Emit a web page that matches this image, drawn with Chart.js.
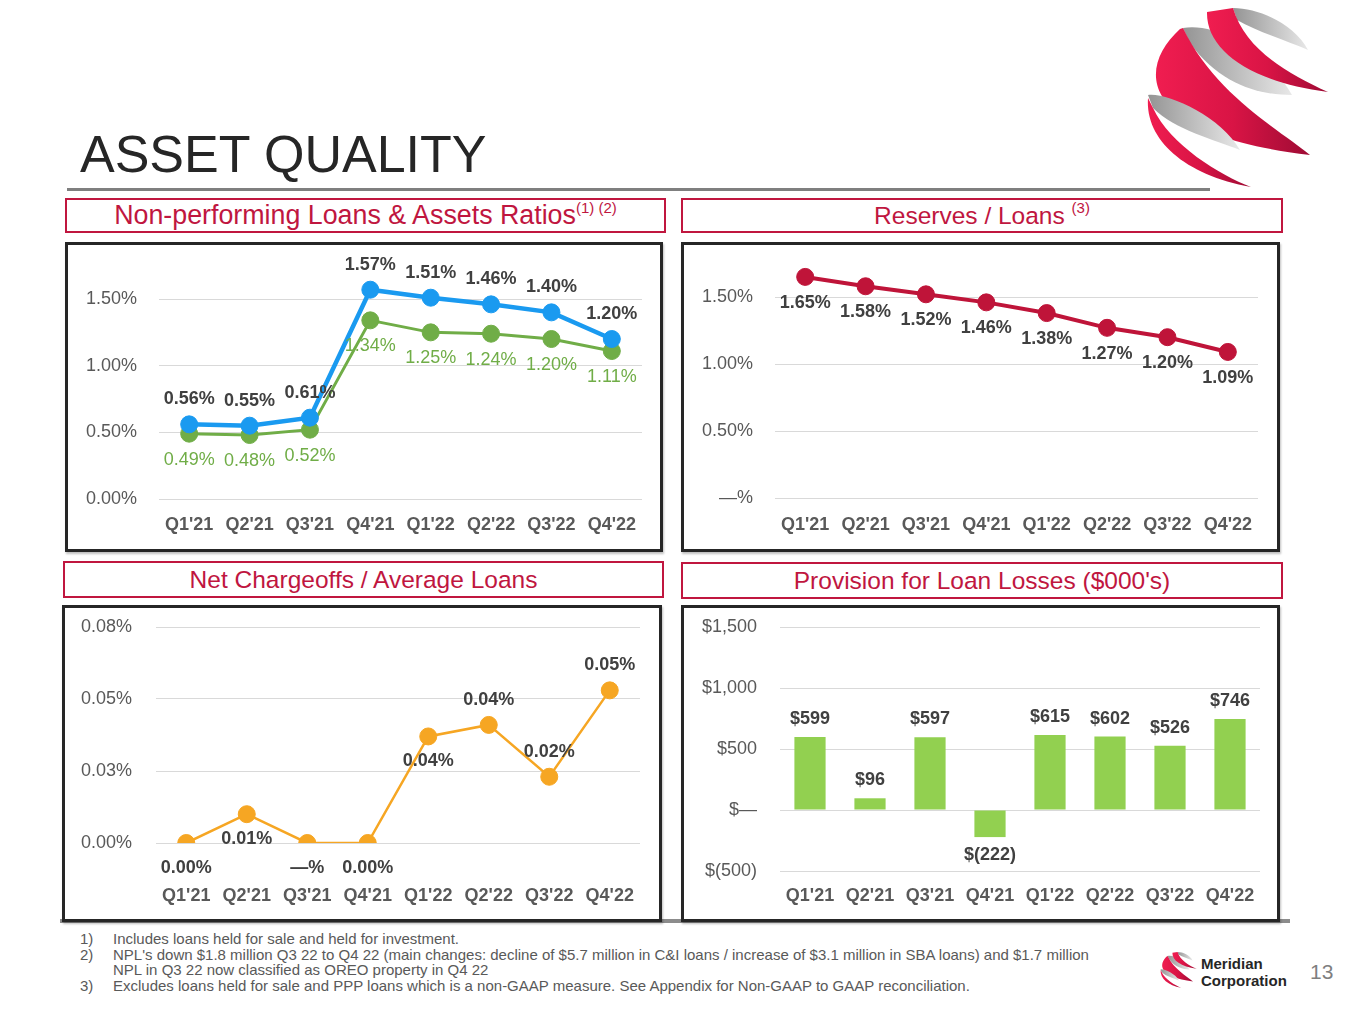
<!DOCTYPE html>
<html>
<head>
<meta charset="utf-8">
<script src="https://cdn.jsdelivr.net/npm/chart.js@4.4.1/dist/chart.umd.min.js"></script>
<style>
    html, body { margin: 0; padding: 0; background: #fff; }
    body { font-family: "Liberation Sans", Arial, sans-serif; }
    #page { position: relative; width: 1365px; height: 1024px; overflow: hidden; background: #fff; }
    .abs { position: absolute; }
    #title { left: 80px; top: 128px; font-size: 52px; line-height: 52px; color: #262626; white-space: nowrap; }
    #titleRule { left: 67px; top: 188px; width: 1143px; height: 3px; background: #7f7f7f; }
    #bottomRule { left: 60px; top: 919px; width: 1230px; height: 4px; background: #8c8c8c; }
    .head { box-sizing: border-box; border: 2px solid #c0163f; color: #c0163f; font-size: 24.5px; text-align: center; white-space: nowrap; background: #fff; }
    .head sup { font-size: 15px; vertical-align: 0; position: relative; top: -11px; }
    .box { box-sizing: border-box; border: 3px solid #262626; background: #fff; box-shadow: 1px 2px 2px rgba(0,0,0,0.25); }
    .chartWrap { position: absolute; }
    #notes { left: 80px; top: 931px; font-size: 15px; line-height: 15.7px; color: #595959; }
    #notes div { position: relative; padding-left: 33px; }
    #notes span { position: absolute; left: 0; }
    #brand { left: 1201px; top: 955px; font-size: 15px; line-height: 17px; font-weight: bold; color: #262626; }
    #pageNo { left: 1310px; top: 960px; font-size: 21px; line-height: 24px; color: #7f7f7f; }
    #logos { left: 0; top: 0; pointer-events: none; }
</style>
</head>
<body>
<div id="page">
    <div id="title" class="abs">ASSET QUALITY</div>
    <div id="titleRule" class="abs"></div>
    <div id="bottomRule" class="abs"></div>

    <div class="abs head" style="left:65px;top:198px;width:601px;height:35px;line-height:31px;font-size:26.8px;">Non-performing Loans &amp; Assets Ratios<sup>(1) (2)</sup></div>
    <div class="abs head" style="left:681px;top:198px;width:602px;height:35px;line-height:31px;">Reserves / Loans <sup>(3)</sup></div>
    <div class="abs head" style="left:63px;top:561px;width:601px;height:37px;line-height:33px;">Net Chargeoffs / Average Loans</div>
    <div class="abs head" style="left:681px;top:562px;width:602px;height:37px;line-height:33px;">Provision for Loan Losses ($000's)</div>

    <div class="abs box" style="left:65px;top:242px;width:598px;height:310px;"></div>
    <div class="abs box" style="left:681px;top:242px;width:599px;height:310px;"></div>
    <div class="abs box" style="left:62px;top:605px;width:600px;height:317px;"></div>
    <div class="abs box" style="left:681px;top:605px;width:599px;height:317px;"></div>

    <div class="chartWrap" style="left:68px;top:245px;width:592px;height:304px;"><canvas id="npaChart"></canvas></div>
    <div class="chartWrap" style="left:684px;top:245px;width:593px;height:304px;"><canvas id="reserveChart"></canvas></div>
    <div class="chartWrap" style="left:65px;top:608px;width:594px;height:311px;"><canvas id="chargeoffChart"></canvas></div>
    <div class="chartWrap" style="left:684px;top:608px;width:593px;height:311px;"><canvas id="provisionChart"></canvas></div>

    <div id="notes" class="abs">
        <div><span>1)</span>Includes loans held for sale and held for investment.</div>
        <div><span>2)</span>NPL's down $1.8 million Q3 22 to Q4 22 (main changes: decline of $5.7 million in C&amp;I loans / increase of $3.1 million in SBA loans) and $1.7 million<br>NPL in Q3 22 now classified as OREO property in Q4 22</div>
        <div><span>3)</span>Excludes loans held for sale and PPP loans which is a non-GAAP measure. See Appendix for Non-GAAP to GAAP reconciliation.</div>
    </div>
    <div id="brand" class="abs">Meridian<br>Corporation</div>
    <div id="pageNo" class="abs">13</div>

    <svg id="logos" class="abs" width="1365" height="1024" viewBox="0 0 1365 1024">
        <defs>
            <linearGradient id="redGrad" x1="0" y1="0" x2="1" y2="0">
                <stop offset="0" stop-color="#f01d50"/>
                <stop offset="0.5" stop-color="#d91445"/>
                <stop offset="1" stop-color="#9e0b34"/>
            </linearGradient>
            <linearGradient id="greyGrad" x1="0" y1="0" x2="1" y2="0">
                <stop offset="0" stop-color="#949494"/>
                <stop offset="1" stop-color="#e8e8e8"/>
            </linearGradient>
            <g id="swirl">
                <path d="M93,8 C120,8 155,25 168,50 C150,42 118,32 97,20 Z" fill="url(#greyGrad)"/>
                <path d="M43,28 C80,22 130,55 152,95 C120,95 80,85 50,43 Z" fill="url(#greyGrad)"/>
                <path d="M67,12 C66,50 110,82 188,92 C150,75 105,50 93,8 Z" fill="url(#redGrad)"/>
                <path d="M40,29 C-5,70 0,135 170,155 C140,130 75,95 43,28 Z" fill="url(#redGrad)"/>
                <path d="M8,95 C25,92 80,115 100,150 C75,140 35,130 13,108 Z" fill="url(#greyGrad)"/>
                <path d="M8,98 C5,140 45,175 111,187 C80,175 30,145 13,108 Z" fill="url(#redGrad)"/>
            </g>
        </defs>
        <use href="#swirl" transform="translate(1140,0)"/>
        <use href="#swirl" transform="translate(1159,950.4) scale(0.2)"/>
    </svg>
</div>

<script>
    // Datos
    const quarters = ["Q1'21", "Q2'21", "Q3'21", "Q4'21", "Q1'22", "Q2'22", "Q3'22", "Q4'22"];
    const npaLoansPct = [0.56, 0.55, 0.61, 1.57, 1.51, 1.46, 1.40, 1.20];
    const npaAssetsPct = [0.49, 0.48, 0.52, 1.34, 1.25, 1.24, 1.20, 1.11];
    const reservesPct = [1.65, 1.58, 1.52, 1.46, 1.38, 1.27, 1.20, 1.09];
    const chargeoffsPct = [0.000, 0.010, 0.000, 0.000, 0.037, 0.041, 0.023, 0.053];
    const chargeoffLabels = ['0.00%', '0.01%', '—%', '0.00%', '0.04%', '0.04%', '0.02%', '0.05%'];
    const provision = [599, 96, 597, -222, 615, 602, 526, 746];

    const pctTickValues = [0, 0.5, 1.0, 1.5];
    const npaTickLabels = ['0.00%', '0.50%', '1.00%', '1.50%'];
    const reserveTickLabels = ['—%', '0.50%', '1.00%', '1.50%'];
    const chargeoffTickValues = [0, 0.025, 0.05, 0.075];
    const chargeoffTickLabels = ['0.00%', '0.03%', '0.05%', '0.08%'];
    const provisionTickValues = [-500, 0, 500, 1000, 1500];
    const provisionTickLabels = ['$(500)', '$—', '$500', '$1,000', '$1,500'];

    Chart.defaults.font.family = '"Liberation Sans", Arial, sans-serif';
    Chart.defaults.animation = false;

    const pct = v => v.toFixed(2) + '%';
    const money = v => v < 0 ? '$(' + Math.abs(v) + ')' : '$' + v;

    // Etiquetas de valores (sin plugin externo)
    const valueLabels = {
        id: 'valueLabels',
        afterDatasetsDraw(chart) {
            const ctx = chart.ctx;
            chart.data.datasets.forEach((ds, i) => {
                const cfg = ds.valueLabels;
                if (!cfg) return;
                const meta = chart.getDatasetMeta(i);
                ctx.save();
                ctx.font = (cfg.bold ? 'bold ' : '') + '18px "Liberation Sans", Arial, sans-serif';
                ctx.fillStyle = cfg.color;
                ctx.textAlign = 'center';
                ctx.textBaseline = 'middle';
                meta.data.forEach((el, j) => {
                    const pos = Array.isArray(cfg.pos) ? cfg.pos[j] : cfg.pos;
                    let top = el.y, bottom = el.y;
                    if (meta.type === 'bar') {
                        top = Math.min(el.y, el.base);
                        bottom = Math.max(el.y, el.base);
                    }
                    const y = pos === 'above' ? top - cfg.offset : bottom + cfg.offset;
                    ctx.fillText(cfg.text[j], el.x, y);
                });
                ctx.restore();
            });
        }
    };

    function yAxis(min, max, values, labels, width, pad) {
        return {
            min: min,
            max: max,
            afterBuildTicks: s => { s.ticks = values.map(v => ({ value: v })); },
            afterFit: s => { s.width = width; s.paddingTop = 0; s.paddingBottom = 0; },
            grid: { color: '#d9d9d9', lineWidth: 1, drawTicks: false },
            border: { display: false },
            ticks: {
                padding: pad,
                color: '#595959',
                font: { size: 18 },
                callback: (v, i) => labels[i]
            }
        };
    }

    function xAxis(height, pad) {
        return {
            offset: true,
            afterFit: s => { s.height = height; s.paddingLeft = 0; s.paddingRight = 0; },
            grid: { display: false, drawTicks: false },
            border: { display: false },
            ticks: {
                padding: pad,
                color: '#595959',
                font: { size: 18, weight: 'bold' },
                maxRotation: 0,
                autoSkip: false
            }
        };
    }

    function baseOptions(top, right, x, y) {
        return {
            responsive: true,
            maintainAspectRatio: false,
            layout: { padding: { top: top, right: right, left: 0, bottom: 0 } },
            plugins: { legend: { display: false }, tooltip: { enabled: false } },
            scales: { x: x, y: y }
        };
    }

    function lineSet(values, color, width, labels) {
        return {
            data: values,
            borderColor: color,
            backgroundColor: color,
            borderWidth: width,
            pointRadius: 8.5,
            pointBorderWidth: 1,
            pointBorderColor: color,
            pointBackgroundColor: color,
            valueLabels: labels
        };
    }

    // Non-performing loans & assets
    new Chart(document.getElementById('npaChart'), {
        type: 'line',
        data: {
            labels: quarters,
            datasets: [
                lineSet(npaLoansPct, '#1a9af0', 4.5,
                    { text: npaLoansPct.map(pct), pos: 'above', offset: 25, bold: true, color: '#404040' }),
                lineSet(npaAssetsPct, '#70ad47', 3,
                    { text: npaAssetsPct.map(pct), pos: 'below', offset: 26, bold: false, color: '#70ad47' })
            ]
        },
        options: baseOptions(20.7, 18, xAxis(50, 15), yAxis(0, 1.75, pctTickValues, npaTickLabels, 91, 22)),
        plugins: [valueLabels]
    });

    // Reserves / loans
    new Chart(document.getElementById('reserveChart'), {
        type: 'line',
        data: {
            labels: quarters,
            datasets: [
                lineSet(reservesPct, '#bf1439', 4,
                    { text: reservesPct.map(pct), pos: 'below', offset: 26, bold: true, color: '#404040' })
            ]
        },
        options: baseOptions(18.5, 19, xAxis(51, 16), yAxis(0, 1.75, pctTickValues, reserveTickLabels, 91, 22)),
        plugins: [valueLabels]
    });

    // Net chargeoffs / average loans
    new Chart(document.getElementById('chargeoffChart'), {
        type: 'line',
        data: {
            labels: quarters,
            datasets: [
                lineSet(chargeoffsPct, '#f6a623', 2.5, {
                    text: chargeoffLabels,
                    pos: ['below', 'below', 'below', 'below', 'below', 'above', 'above', 'above'],
                    offset: 25, bold: true, color: '#404040'
                })
            ]
        },
        options: baseOptions(19, 19, xAxis(76, 42), yAxis(0, 0.075, chargeoffTickValues, chargeoffTickLabels, 91, 24)),
        plugins: [valueLabels]
    });

    // Provision for loan losses
    new Chart(document.getElementById('provisionChart'), {
        type: 'bar',
        data: {
            labels: quarters,
            datasets: [{
                data: provision,
                backgroundColor: '#92d050',
                categoryPercentage: 1,
                barPercentage: 0.52,
                valueLabels: {
                    text: provision.map(money),
                    pos: provision.map(v => v < 0 ? 'below' : 'above'),
                    offset: 18, bold: true, color: '#404040'
                }
            }]
        },
        options: baseOptions(19, 17, xAxis(48, 14), yAxis(-500, 1500, provisionTickValues, provisionTickLabels, 96, 23)),
        plugins: [valueLabels]
    });
</script>
</body>
</html>
